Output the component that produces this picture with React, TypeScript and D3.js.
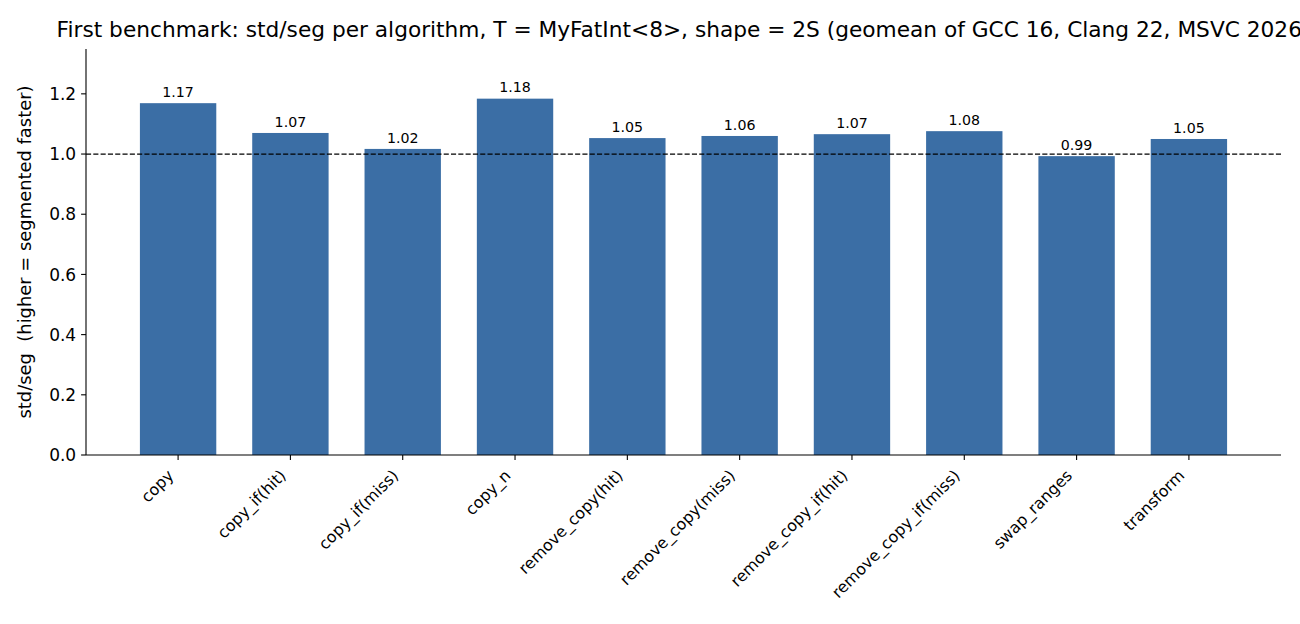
import React, { useEffect, useRef } from 'react';
import * as d3 from 'd3';

const algorithms = [
  'copy', 'copy_if(hit)', 'copy_if(miss)', 'copy_n', 'remove_copy(hit)',
  'remove_copy(miss)', 'remove_copy_if(hit)', 'remove_copy_if(miss)', 'swap_ranges', 'transform',
];
const ratios = [1.169, 1.070, 1.017, 1.184, 1.053, 1.060, 1.066, 1.076, 0.993, 1.050];
const yTicks = [0, 0.2, 0.4, 0.6, 0.8, 1.0, 1.2];

const W = 1300;
const H = 624;
const FONT = '"DejaVu Sans", sans-serif';

const App: React.FC = () => {
  const svgRef = useRef<SVGSVGElement | null>(null);

  useEffect(() => {
    if (!svgRef.current) return;
    const svg = d3.select(svgRef.current);
    svg.selectAll('*').remove();

    const left = 86, right = 1281, top = 49, bottom = 455;
    const x = d3.scaleLinear().domain([-0.82, algorithms.length - 1 + 0.82]).range([left, right]);
    const y = d3.scaleLinear().domain([0, 1.349]).range([bottom, top]);
    const barW = x(0.68) - x(0);

    // bars
    svg.append('g')
      .selectAll('rect')
      .data(ratios)
      .join('rect')
      .attr('x', (_, i) => x(i) - barW / 2)
      .attr('y', (d) => y(d))
      .attr('width', barW)
      .attr('height', (d) => y(0) - y(d))
      .attr('fill', '#3b6ea5');

    // value labels
    svg.append('g')
      .selectAll('text')
      .data(ratios)
      .join('text')
      .attr('x', (_, i) => x(i))
      .attr('y', (d) => y(d + 0.01) - 3.3)
      .attr('text-anchor', 'middle')
      .style('font', `14.2px ${FONT}`)
      .text((d) => d.toFixed(2));

    // reference line
    svg.append('line')
      .attr('x1', left).attr('x2', right)
      .attr('y1', y(1)).attr('y2', y(1))
      .attr('stroke', '#000')
      .attr('stroke-width', 1.3)
      .attr('stroke-dasharray', '5.1,2.2');

    // y axis
    const yAxis = svg.append('g');
    yAxis.append('line')
      .attr('x1', left).attr('x2', left).attr('y1', top).attr('y2', bottom)
      .attr('stroke', '#000').attr('stroke-width', 1.1);
    yTicks.forEach((t) => {
      yAxis.append('line')
        .attr('x1', left - 4.9).attr('x2', left).attr('y1', y(t)).attr('y2', y(t))
        .attr('stroke', '#000').attr('stroke-width', 1.1);
      yAxis.append('text')
        .attr('x', left - 9.8).attr('y', y(t)).attr('dy', '0.36em')
        .attr('text-anchor', 'end')
        .style('font', `17px ${FONT}`)
        .text(t.toFixed(1));
    });

    // x axis
    const xAxis = svg.append('g');
    xAxis.append('line')
      .attr('x1', left).attr('x2', right).attr('y1', bottom).attr('y2', bottom)
      .attr('stroke', '#000').attr('stroke-width', 1.1);
    algorithms.forEach((name, i) => {
      xAxis.append('line')
        .attr('x1', x(i)).attr('x2', x(i)).attr('y1', bottom).attr('y2', bottom + 4.9)
        .attr('stroke', '#000').attr('stroke-width', 1.1);
      xAxis.append('text')
        .attr('transform', `translate(${x(i) - 12},${bottom + 13}) rotate(-45)`)
        .attr('dy', '0.76em')
        .attr('text-anchor', 'end')
        .style('font', `15.9px ${FONT}`)
        .text(name);
    });

    // y label
    svg.append('text')
      .attr('transform', `translate(31,${(top + bottom) / 2}) rotate(-90)`)
      .attr('text-anchor', 'middle')
      .attr('xml:space', 'preserve')
      .style('font', `17.9px ${FONT}`)
      .style('white-space', 'pre')
      .text('std/seg  (higher = segmented faster)');

    // title (wider than the figure, clipped at the right edge like the original)
    svg.append('text')
      .attr('x', (left + right) / 2)
      .attr('y', 37)
      .attr('text-anchor', 'middle')
      .style('font', `21.7px ${FONT}`)
      .text('First benchmark: std/seg per algorithm, T = MyFatInt<8>, shape = 2S (geomean of GCC 16, Clang 22, MSVC 2026)');

    return () => { svg.selectAll('*').remove(); };
  }, []);

  return (
    <svg
      ref={svgRef}
      width={W}
      height={H}
      style={{ position: 'absolute', left: 0, top: 0, background: '#fff' }}
    />
  );
};

export default App;
